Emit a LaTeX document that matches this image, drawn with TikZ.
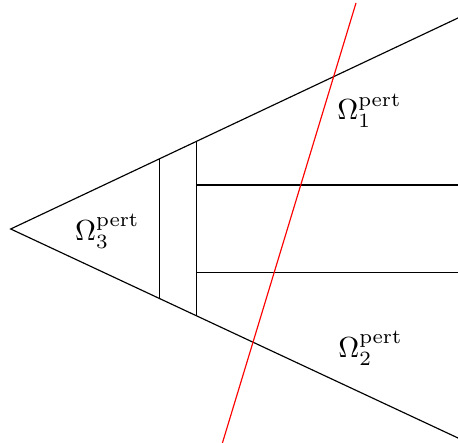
\documentclass[tikz,border=0pt]{standalone}
\usepackage{amsmath}
\begin{document}
\begin{tikzpicture}[x=0.345pt,y=-0.345pt]
  \useasboundingbox (0,0) rectangle (458,443);
  \coordinate (apex) at (10.7,229);
  \draw (458,18) -- (apex) -- (458,438);
  \draw (159.3,158.9) -- (159.3,298.6);
  \draw (196.7,141.3) -- (196.7,316.2);
  \draw (196.7,185) -- (458,185);
  \draw (196.7,272.5) -- (458,272.5);
  \draw[red] (356,3) -- (222.4,443);
  \node[anchor=base west,inner sep=0] (one) at (336.8,120) {$\Omega_1^{\mathrm{pert}}$};
  \node[anchor=base west,inner sep=0] (two) at (337.8,357.3) {$\Omega_2^{\mathrm{pert}}$};
  \node[anchor=base west,inner sep=0] (three) at (74.6,240.7) {$\Omega_3^{\mathrm{pert}}$};
\end{tikzpicture}
\end{document}
